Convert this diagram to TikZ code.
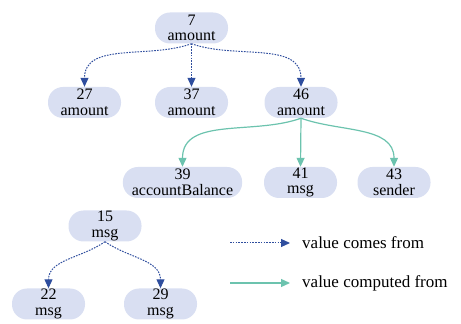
\documentclass[tikz,border=0pt]{standalone}
\usepackage{fontspec}
\setmainfont{Liberation Serif}
\usetikzlibrary{arrows.meta,positioning}
\definecolor{nodefill}{HTML}{D9DFF2}
\definecolor{flowblue}{HTML}{2F4E9E}
\definecolor{flowteal}{HTML}{6CC3AE}
\tikzset
{
  valnode/.style   = {rectangle, rounded corners=15pt, fill=nodefill, align=center, minimum width=73pt, minimum height=31pt, inner xsep=9pt, inner ysep=0pt, font=\fontsize{16}{15.5}\selectfont},
  comesfrom/.style = {-{Triangle[length=9pt,width=8pt]}, draw=flowblue, line width=1pt, dash pattern=on 1.6pt off 1.2pt},
  computed/.style  = {-{Triangle[length=9pt,width=8pt]}, draw=flowteal, line width=1.2pt},
  legendtext/.style= {anchor=west, inner sep=0pt, font=\fontsize{17}{15}\selectfont}
}
\begin{document}
\begin{tikzpicture}[x=1pt,y=1pt]
  \useasboundingbox (0,0) rectangle (461,324);
  % first tree
  \node [valnode] (n7)  at (191.5,296)   {7\\amount};
  \node [valnode] (n27) at (84.5,221.5)  {27\\amount};
  \node [valnode] (n37) at (191.5,221.5) {37\\amount};
  \node [valnode] (n46) at (301,221.5)   {46\\amount};
  \node [valnode] (n39) at (182.5,141.5) {39\\accountBalance};
  \node [valnode] (n41) at (300.5,141.5) {41\\msg};
  \node [valnode] (n43) at (394,141.5)   {43\\sender};
  % second tree
  \node [valnode] (n15) at (105,98)   {15\\msg};
  \node [valnode] (n22) at (48.5,20)  {22\\msg};
  \node [valnode] (n29) at (160.5,20) {29\\msg};

  \draw [comesfrom] (n7.south) to[out=200,in=90] (n27.north);
  \draw [comesfrom] (n7.south) -- (n37.north);
  \draw [comesfrom] (n7.south) to[out=-20,in=90] (n46.north);
  \draw [computed] (n46.south) to[out=200,in=90] (n39.north);
  \draw [computed] (n46.south) -- (n41.north);
  \draw [computed] (n46.south) to[out=-20,in=90] (n43.north);
  \draw [comesfrom] (n15.south) to[out=215,in=90] (n22.north);
  \draw [comesfrom] (n15.south) to[out=-35,in=90] (n29.north);

  % legend
  \node [legendtext] (comes) at (302,81) {value comes from};
  \node [legendtext] (comp)  at (302,41) {value computed from};
  \coordinate (comesstart) at (230,81);
  \coordinate (compstart)  at (230,41);
  \draw [comesfrom, shorten >=12pt] (comesstart) -- (comes.west);
  \draw [computed, shorten >=12pt] (compstart) -- (comp.west);
\end{tikzpicture}
\end{document}
